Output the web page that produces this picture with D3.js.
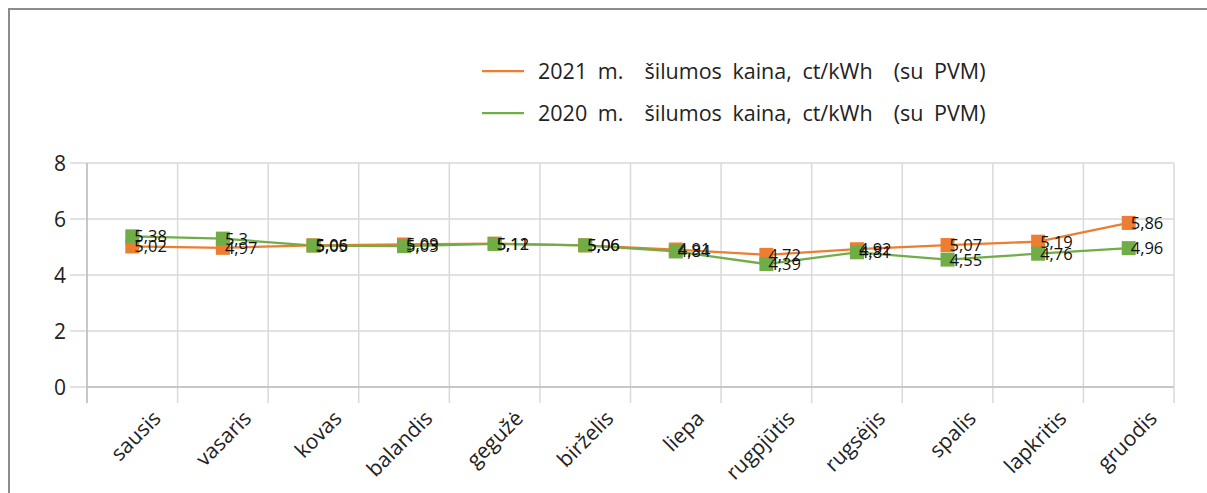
<!DOCTYPE html>
<html lang="lt">
<head>
<meta charset="UTF-8">
<title>Šilumos kaina</title>
<script src="https://cdn.jsdelivr.net/npm/d3@7"></script>
<style>
  body { margin: 0; background: #fff; }
  svg text { font-family: "Open Sans", "Noto Sans", sans-serif; fill: #222; }
</style>
</head>
<body>
<div id="chart"></div>
<script>
// months (categories)
const months = ['sausis', 'vasaris', 'kovas', 'balandis', 'gegužė', 'birželis',
                'liepa', 'rugpjūtis', 'rugsėjis', 'spalis', 'lapkritis', 'gruodis'];
// 2021 heat price, ct/kWh
const price2021 = [5.02, 4.97, 5.06, 5.09, 5.12, 5.06, 4.91, 4.72, 4.92, 5.07, 5.19, 5.86];
// 2020 heat price, ct/kWh
const price2020 = [5.38, 5.3, 5.05, 5.03, 5.11, 5.06, 4.84, 4.39, 4.81, 4.55, 4.76, 4.96];
const yTicks = [0, 2, 4, 6, 8];
const seriesNames = ['2021 m.  šilumos kaina, ct/kWh  (su PVM)', '2020 m.  šilumos kaina, ct/kWh  (su PVM)'];

const w = 1207, h = 493;
const plotL = 87, plotR = 1174, plotT = 163, plotB = 387;

const svg = d3.select('#chart').append('svg')
    .attr('width', w)
    .attr('height', h);

// outer frame (runs off the right and bottom edge)
svg.append('rect')
    .attr('x', 9).attr('y', 9)
    .attr('width', 1220).attr('height', 520)
    .attr('fill', 'none')
    .attr('stroke', '#8c8c8c')
    .attr('stroke-width', 2);

const x = d3.scaleBand().domain(months).range([plotL, plotR]);
const y = d3.scaleLinear().domain([0, 8]).range([plotB, plotT]);

// horizontal gridlines + outside ticks
svg.append('g')
    .selectAll('line')
    .data(yTicks)
    .enter()
    .append('line')
    .attr('x1', plotL - 17).attr('x2', plotR)
    .attr('y1', d => y(d)).attr('y2', d => y(d))
    .attr('stroke', '#d9d9d9')
    .attr('stroke-width', 1.5);

// vertical gridlines at category borders
const borders = months.map(m => x(m)).concat([plotR]);
svg.append('g')
    .selectAll('line')
    .data(borders)
    .enter()
    .append('line')
    .attr('x1', d => d).attr('x2', d => d)
    .attr('y1', plotT).attr('y2', plotB + 16)
    .attr('stroke', '#d9d9d9')
    .attr('stroke-width', 1.5);

// axis lines
svg.append('line')
    .attr('x1', plotL).attr('x2', plotR)
    .attr('y1', plotB).attr('y2', plotB)
    .attr('stroke', '#bfbfbf').attr('stroke-width', 1.5);
svg.append('line')
    .attr('x1', plotL).attr('x2', plotL)
    .attr('y1', plotT).attr('y2', plotB + 16)
    .attr('stroke', '#bfbfbf').attr('stroke-width', 1.5);

// y labels
svg.append('g')
    .selectAll('text')
    .data(yTicks)
    .enter()
    .append('text')
    .attr('x', 66)
    .attr('y', d => y(d))
    .attr('dy', '0.36em')
    .attr('text-anchor', 'end')
    .style('font-size', '21px')
    .text(d => d);

// x labels, rotated
svg.append('g')
    .selectAll('text')
    .data(months)
    .enter()
    .append('text')
    .attr('transform', d => `translate(${x(d) + x.bandwidth() / 2 + 19}, 409) rotate(-45)`)
    .attr('text-anchor', 'end')
    .attr('dy', '0.72em')
    .style('font-size', '21px')
    .text(d => d);

const cx = d => x(d) + x.bandwidth() / 2;
const series = [
    { values: price2021, color: '#ed7d31' },
    { values: price2020, color: '#70ad47' }
];

const line = d3.line()
    .x(d => cx(d.m))
    .y(d => y(d.v));

series.forEach(s => {
    const pts = months.map((m, i) => ({ m: m, v: s.values[i] }));
    svg.append('path')
        .datum(pts)
        .attr('d', line)
        .attr('fill', 'none')
        .attr('stroke', s.color)
        .attr('stroke-width', 2.25);
    s.pts = pts;
});

series.forEach(s => {
    svg.append('g')
        .selectAll('rect')
        .data(s.pts)
        .enter()
        .append('rect')
        .attr('x', d => cx(d.m) - 7)
        .attr('y', d => y(d.v) - 7)
        .attr('width', 14)
        .attr('height', 14)
        .attr('fill', s.color);
});

series.forEach(s => {
    svg.append('g')
        .selectAll('text')
        .data(s.pts)
        .enter()
        .append('text')
        .attr('x', d => cx(d.m) + 2)
        .attr('y', d => y(d.v))
        .attr('dy', '0.36em')
        .style('font-size', '16.5px')
        .style('fill', '#111')
        .text(d => String(d.v).replace('.', ','));
});

// legend
const legend = svg.append('g').attr('transform', 'translate(482, 71)');
seriesNames.forEach((name, i) => {
    legend.append('line')
        .attr('x1', 0).attr('x2', 42)
        .attr('y1', i * 42).attr('y2', i * 42)
        .attr('stroke', series[i].color)
        .attr('stroke-width', 2.25);
    legend.append('text')
        .attr('x', 56)
        .attr('y', i * 42)
        .attr('dy', '0.36em')
        .style('font-size', '21.5px')
        .style('white-space', 'pre')
        .style('word-spacing', '5px')
        .text(name);
});
</script>
</body>
</html>
